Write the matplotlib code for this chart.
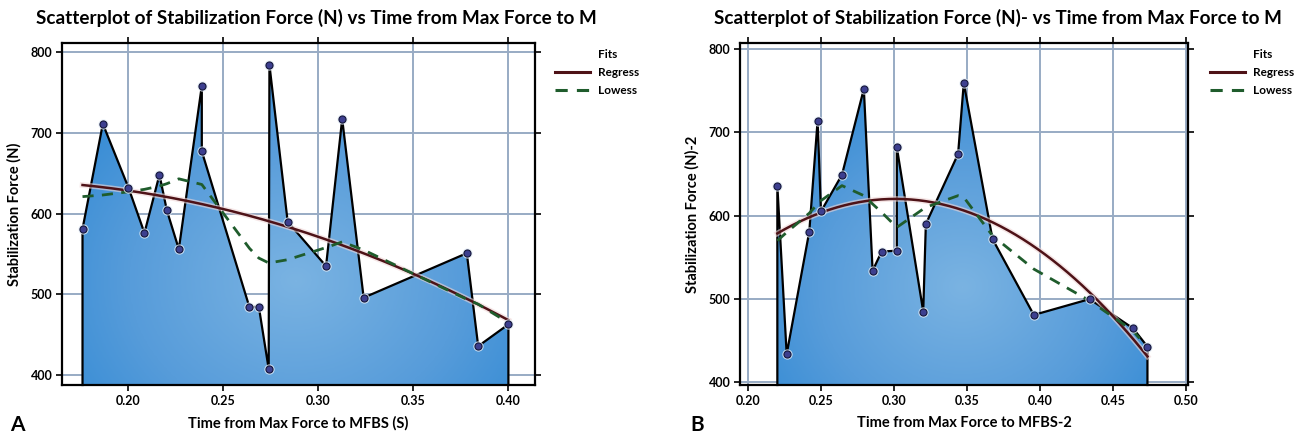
import numpy as np
import matplotlib
matplotlib.use('Agg')
import matplotlib.pyplot as plt
from matplotlib.colors import LinearSegmentedColormap
from matplotlib.patches import Polygon
from matplotlib.lines import Line2D

plt.rcParams['font.family'] = ['Lato', 'DejaVu Sans']
plt.rcParams['font.weight'] = 'bold'

# panel A data (sorted by time)
time_a = [0.1758, 0.1865, 0.2000, 0.2084, 0.2163, 0.2202, 0.2265, 0.2386, 0.2386, 0.2637,
          0.2686, 0.2738, 0.2742, 0.2838, 0.3040, 0.3125, 0.3238, 0.3781, 0.3841, 0.4000]
force_a = [581, 711, 632, 576, 648, 604, 556, 758, 677, 484,
           485, 408, 784, 590, 535, 717, 496, 551, 436, 463]
lowess_a = [621, 623, 627, 630, 634, 637, 643, 636, 636, 557,
            545, 539, 539, 543, 558, 565, 555, 494, 488, 465]

# panel B data
time_b = [0.2199, 0.2263, 0.2418, 0.2475, 0.2498, 0.2642, 0.2792, 0.2852, 0.2914, 0.3018,
          0.3018, 0.3199, 0.3217, 0.3438, 0.3477, 0.3674, 0.3957, 0.4340, 0.4637, 0.4736]
force_b = [636, 434, 581, 714, 605, 649, 752, 534, 557, 558,
           682, 485, 590, 674, 759, 572, 481, 500, 465, 443]
lowess_b = [570, 580, 603, 614, 618, 636, 624, 614, 604, 586,
            586, 608, 610, 624, 622, 576, 536, 498, 462, 442]

xticks_a = [0.20, 0.25, 0.30, 0.35, 0.40]
xticks_b = [0.20, 0.25, 0.30, 0.35, 0.40, 0.45, 0.50]
yticks = [400, 500, 600, 700, 800]

fill_cmap = LinearSegmentedColormap.from_list('fillblue', ['#7ab3e2', '#579cda', '#2483d2'])
W, H = 1309, 440


def panel(ax, x, y, lw, xlim, ylim, xticks, xlabel, ylabel):
    x = np.array(x)
    y = np.array(y, dtype=float)
    ax.set_xlim(*xlim)
    ax.set_ylim(*ylim)
    ybot = ylim[0]
    ax.set_axisbelow(True)
    ax.grid(True, color='#98abc4', lw=1.4)

    # gradient fill under the polyline
    verts = [(x[0], ybot)] + list(zip(x, y)) + [(x[-1], ybot)]
    poly = Polygon(verts, closed=True, facecolor='none', edgecolor='none')
    ax.add_patch(poly)
    gx, gy = np.meshgrid(np.linspace(-1, 1, 300), np.linspace(-1, 1, 300))
    grad = np.sqrt((gx * 0.9) ** 2 + ((gy + 0.35) * 0.8) ** 2)
    im = ax.imshow(grad, extent=[x[0], x[-1], ybot, y.max()], origin='lower',
                   aspect='auto', cmap=fill_cmap, zorder=1, interpolation='bilinear')
    im.set_clip_path(poly)

    # outline
    ox = np.concatenate([[x[0]], x, [x[-1]]])
    oy = np.concatenate([[ybot], y, [ybot]])
    ax.plot(ox, oy, color='black', lw=1.6, zorder=3, clip_on=False)

    # fits
    coef = np.polyfit(x, y, 2)
    xs = np.linspace(x[0], x[-1], 200)
    ax.plot(xs, np.polyval(coef, xs), color='#efd6d6', lw=4, alpha=0.6, zorder=4)
    ax.plot(xs, np.polyval(coef, xs), color='#4e1217', lw=1.8, zorder=5)
    ax.plot(x, lw, color='#1f5c2c', lw=2, ls=(0, (4, 3)), zorder=5)

    ax.scatter(x, y, s=55, color='#e2ecf7', alpha=0.8, zorder=6, lw=0)
    ax.scatter(x, y, s=26, color='#3d3f8f', edgecolor='#15163a', lw=0.8, zorder=7)

    ax.set_xticks(xticks)
    ax.set_xticklabels(['%.2f' % t for t in xticks])
    ax.set_yticks(yticks)
    ax.tick_params(direction='out', length=4, width=1.2, top=True, right=True,
                   labelsize=9, pad=3)
    for sp in ax.spines.values():
        sp.set_linewidth(1.6)
        sp.set_color('black')
    ax.set_xlabel(xlabel, fontsize=10.5, fontweight='bold', labelpad=7)
    ax.set_ylabel(ylabel, fontsize=10.5, fontweight='bold', labelpad=6)


fig = plt.figure(figsize=(W / 100, H / 100), dpi=100)
ax1 = fig.add_axes([62 / W, 55 / H, 473 / W, 342 / H])
ax2 = fig.add_axes([740 / W, 55 / H, 448 / W, 342 / H])

panel(ax1, time_a, force_a, lowess_a, (0.165, 0.414), (388, 811), xticks_a,
      'Time from Max Force to MFBS (S)', 'Stabilization Force (N)')
panel(ax2, time_b, force_b, lowess_b, (0.1943, 0.5014), (397, 807), xticks_b,
      'Time from Max Force to MFBS-2', 'Stabilization Force (N)-2')

fig.text(36 / W, 1 - 18 / H, 'Scatterplot of Stabilization Force (N) vs Time from Max Force to M',
         fontsize=13.6, fontweight='bold', va='center', ha='left')
fig.text(714 / W, 1 - 18 / H, 'Scatterplot of Stabilization Force (N)- vs Time from Max Force to M',
         fontsize=13.6, fontweight='bold', va='center', ha='left')
fig.text(10 / W, 1 - 425 / H, 'A', fontsize=15, fontweight='bold', va='center')
fig.text(690 / W, 1 - 425 / H, 'B', fontsize=15, fontweight='bold', va='center')

# legends
for x0 in (555, 1210):
    fig.text((x0 + 43) / W, 1 - 55 / H, 'Fits', fontsize=8.5, fontweight='bold', va='center')
    fig.add_artist(Line2D([x0 / W, (x0 + 35) / W], [1 - 72 / H, 1 - 72 / H],
                          color='#4e1217', lw=2.2))
    fig.text((x0 + 43) / W, 1 - 72 / H, 'Regress', fontsize=8.5, fontweight='bold', va='center')
    fig.add_artist(Line2D([x0 / W, (x0 + 35) / W], [1 - 90 / H, 1 - 90 / H],
                          color='#1f5c2c', lw=2.2, ls=(0, (4, 3))))
    fig.text((x0 + 43) / W, 1 - 90 / H, 'Lowess', fontsize=8.5, fontweight='bold', va='center')

fig.savefig('out.png', dpi=100)
